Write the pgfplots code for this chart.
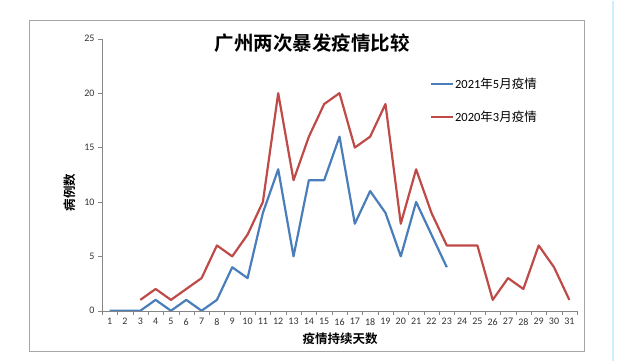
\documentclass[border=0pt]{standalone}
\usepackage{fontspec}
\setmainfont{Carlito}
\newfontfamily\cjk{Noto Sans CJK SC}
\newfontfamily\cjkb{Noto Sans CJK SC}[BoldFont={Noto Sans CJK SC Bold}]
\usepackage{pgfplots}
\pgfplotsset{compat=1.18}
\definecolor{bl}{HTML}{4A7EBB}
\definecolor{rd}{HTML}{BE4B48}
\definecolor{ax}{HTML}{868686}
\begin{document}
\begin{tikzpicture}[x=1pt,y=1pt]
\path[fill=white] (0,0) rectangle (640,360);
\draw[color=black!35, line width=0.8pt] (29,340) rectangle (584,9);
\draw[color=cyan!20, line width=1.5pt] (613,0) -- (613,360);
\begin{axis}[
  at={(102pt,50pt)}, anchor=south west,
  scale only axis, width=475pt, height=272pt,
  xmin=0.5, xmax=31.5, ymin=0, ymax=25,
  axis x line*=bottom, axis y line*=left,
  axis line style={ax, -},
  xtick={1,...,31}, ytick={0,5,...,25},
  minor xtick={0.5,1.5,...,31.5},
  major x tick style={draw=none},
  minor x tick style={ax},
  y tick style={ax},
  tick align=outside, major tick length=4pt, minor tick length=4pt,
  tick label style={font=\fontsize{10}{11}\selectfont, text=black!80},
  /pgf/number format/assume math mode=true,
  every axis plot/.append style={line width=2.2pt, line join=round},
  legend style={at={(0.690,0.872)}, anchor=north west, draw=none, fill=none,
    font=\fontsize{12.5}{13}\selectfont, row sep=17pt, inner xsep=0pt,
    nodes={inner xsep=1pt}},
  legend cell align=left,
  legend image post style={line width=2.2pt},
  legend image code/.code={\draw[#1] (0pt,0pt) -- (22pt,0pt);},
]
\addplot[bl] coordinates {(1,0)(2,0)(3,0)(4,1)(5,0)(6,1)(7,0)(8,1)(9,4)(10,3)(11,9)(12,13)(13,5)(14,12)(15,12)(16,16)(17,8)(18,11)(19,9)(20,5)(21,10)(22,7)(23,4)};
\addlegendentry{2021{\cjk 年}5{\cjk 月疫情}}
\addplot[rd] coordinates {(3,1)(4,2)(5,1)(6,2)(7,3)(8,6)(9,5)(10,7)(11,10)(12,20)(13,12)(14,16)(15,19)(16,20)(17,15)(18,16)(19,19)(20,8)(21,13)(22,9)(23,6)(24,6)(25,6)(26,1)(27,3)(28,2)(29,6)(30,4)(31,1)};
\addlegendentry{2020{\cjk 年}3{\cjk 月疫情}}
\end{axis}
\node[font=\cjkb\bfseries\fontsize{19.5}{22}\selectfont] at (312,318) {广州两次暴发疫情比较};
\node[font=\cjkb\bfseries\fontsize{12.5}{14}\selectfont, rotate=90] at (70,168) {病例数};
\node[font=\cjkb\bfseries\fontsize{12.5}{14}\selectfont] at (340,22) {疫情持续天数};
\end{tikzpicture}
\end{document}
